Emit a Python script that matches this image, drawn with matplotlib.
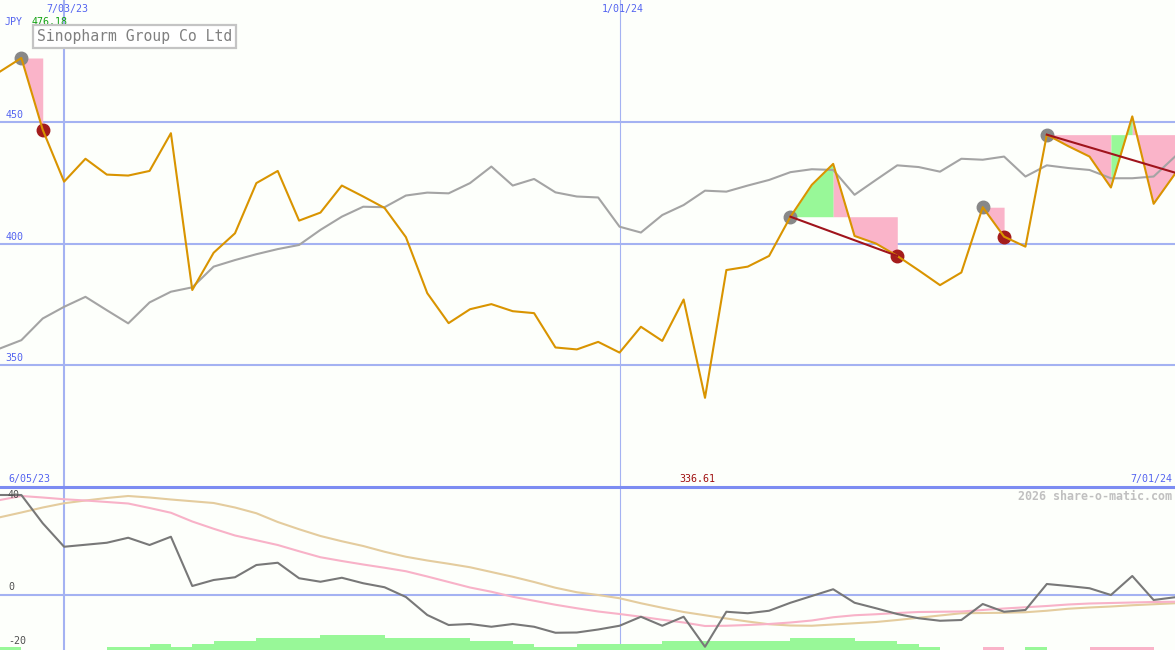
import matplotlib
matplotlib.use("Agg")
import matplotlib.pyplot as plt
import numpy as np

# weekly closes, 12 Jun 2023 .. 1 Jul 2024 (JPY)
price = [470.6, 476.18, 446.7, 425.4, 434.8, 428.3, 427.9, 429.8, 445.3, 380.9,
         396.2, 404.2, 424.8, 429.8, 409.4, 412.7, 423.8, 419.3, 414.6, 402.6,
         379.6, 367.3, 373.0, 375.1, 372.2, 371.4, 357.3, 356.5, 359.6, 355.2,
         365.8, 360.0, 377.0, 336.61, 389.1, 390.5, 394.9, 411.0, 424.1, 432.7,
         403.1, 400.0, 394.9, 389.0, 382.9, 388.1, 414.9, 402.8, 398.7, 444.7,
         440.0, 435.7, 423.0, 452.2, 416.3, 428.6]
moving_avg = [356.9, 360.3, 369.2, 374.0, 378.1, 372.6, 367.2, 375.8, 380.2, 382.0,
              390.5, 393.2, 395.6, 397.7, 399.4, 405.6, 411.0, 415.1, 414.9, 419.7,
              420.9, 420.6, 424.8, 431.6, 423.8, 426.5, 421.0, 419.3, 418.9, 406.9,
              404.5, 411.7, 415.8, 421.7, 421.3, 423.8, 426.1, 429.3, 430.5, 430.2,
              420.0, 426.1, 432.1, 431.4, 429.5, 434.8, 434.4, 435.7, 427.5, 432.1,
              431.0, 430.2, 426.8, 426.8, 427.5, 435.7]

# peaks / troughs and shaded swings
peak_idx = [1, 37, 46, 49]
trough_idx = [2, 42, 47]
fill_start = [1, 37, 39, 46, 49, 52, 53]
fill_end = [2, 39, 42, 47, 52, 53, 55]
fill_level_idx = [1, 37, 37, 46, 49, 49, 49]
fill_up = [False, True, False, False, False, True, False]
trend_start = [37, 49]
trend_end = [42, 55]
trend_end_value = [394.9, 429.1]

# lower panel indicators
osc = [40, 40, 28.7, 19.3, 20.1, 20.9, 22.9, 20.0, 23.3, 3.6,
       6.0, 7.1, 12.0, 12.9, 6.7, 5.3, 6.9, 4.7, 3.1, -0.8,
       -8.0, -12.0, -11.6, -12.7, -11.6, -12.7, -15.1, -15.0, -13.8, -12.3,
       -8.7, -12.3, -8.7, -20.7, -6.7, -7.3, -6.3, -3.1, -0.4, 2.3,
       -3.1, -5.3, -7.6, -9.3, -10.3, -10.0, -3.6, -6.7, -6.0, 4.4,
       3.6, 2.7, 0.0, 7.6, -2.0, -0.9]
osc_fast = [38, 39.6, 39, 38.3, 37.8, 37.2, 36.6, 34.8, 32.9, 29.4,
            26.5, 23.8, 21.9, 20, 17.5, 15.1, 13.6, 12.2, 10.9, 9.5,
            7.4, 5.2, 3, 1.3, -0.7, -2.3, -3.9, -5.3, -6.6, -7.6,
            -8.7, -9.9, -11, -12.4, -12.3, -12, -11.6, -11, -10.2, -8.9,
            -8.1, -7.7, -7.2, -6.8, -6.7, -6.6, -6, -5.4, -4.9, -4.4,
            -3.8, -3.4, -3.2, -3, -2.8, -2.7]
osc_slow = [31.1, 33, 35, 36.7, 37.8, 38.8, 39.6, 39, 38.2, 37.5,
            36.8, 35, 32.7, 29.2, 26.3, 23.6, 21.5, 19.6, 17.3, 15.3,
            13.8, 12.5, 11.1, 9.2, 7.3, 5.2, 2.9, 1.1, 0, -1.3,
            -3.3, -5.1, -6.8, -8.1, -9.4, -10.6, -11.7, -12.2, -12.3, -11.8,
            -11.3, -10.8, -10, -9.1, -8.2, -7.3, -7.2, -7.1, -6.9, -6.3,
            -5.5, -5, -4.6, -4.1, -3.7, -3.3]
hist = [1.2, 0, 0, 0, 0, 1.2, 1.2, 2.4, 1.2, 2.4, 3.6, 3.6, 4.8, 4.8, 4.8,
        6, 6, 6, 4.8, 4.8, 4.8, 4.8, 3.6, 3.6, 2.4, 1.2, 1.2, 2.4, 2.4, 2.4,
        2.4, 3.6, 3.6, 3.6, 3.6, 3.6, 3.6, 4.8, 4.8, 4.8, 3.6, 3.6, 2.4, 1.2,
        0, 0, -1.2, 0, 1.2, 0, 0, -1.2, -1.2, -1.2, 0]

price_grid = [350, 400, 450]
date_grid = [3, 29]
date_grid_labels = ["7/03/23", "1/01/24"]

BG = "#fdfffb"
GRID = "#a4b2f2"
BLUE_TXT = "#5464f0"
MONO = "DejaVu Sans Mono"

W, H = 1175, 650
fig = plt.figure(figsize=(W / 100, H / 100), dpi=100, facecolor=BG)
split = 487
ax = fig.add_axes([0, 1 - split / H, 1, split / H])
ax2 = fig.add_axes([0, 0, 1, 1 - split / H])
for a in (ax, ax2):
    a.set_facecolor(BG)
    a.set_xlim(0, 55)
    a.axis("off")

x = np.arange(len(price))

# ---- top panel ----
ax.set_ylim(300, 500)
for g in price_grid:
    ax.axhline(g, color=GRID, lw=1.5, zorder=1)
    ax.text(0.25, g + 0.8, str(g), color=BLUE_TXT, fontsize=7.2,
            family=MONO, va="bottom", ha="left")
ax.axvline(date_grid[0], color=GRID, lw=1.5, zorder=1)
ax.axvline(date_grid[1], color=GRID, lw=0.8, zorder=1)

p = np.array(price)
for s, e, li, up in zip(fill_start, fill_end, fill_level_idx, fill_up):
    seg = slice(s, e + 1)
    ax.fill_between(x[seg], p[seg], price[li], color="#98f898" if up else "#fab4c9",
                    lw=0, zorder=1.5)

ax.plot(x, moving_avg, color="#a4a4a4", lw=1.5, zorder=2)
ax.plot(x[peak_idx], p[peak_idx], "o", color="#888888", ms=9, zorder=3)
ax.plot(x[trough_idx], p[trough_idx], "o", color="#a41c1c", ms=9, zorder=3)
ax.plot(x, price, color="#d99400", lw=1.5, zorder=4)
for s, e, v in zip(trend_start, trend_end, trend_end_value):
    ax.plot([s, e], [price[s], v], color="#a0141c", lw=1.5, zorder=5)

for gx, lab in zip(date_grid, date_grid_labels):
    ax.text(gx + 0.15, 496.3, lab, color=BLUE_TXT, fontsize=7.2, family=MONO,
            ha="center", va="center")

fig.text(5 / W, 1 - 22 / H, "JPY", color=BLUE_TXT, fontsize=7.2, family=MONO,
         ha="left", va="center")
fig.text(32 / W, 1 - 22 / H, f"{max(price):.2f}", color="#10a010", fontsize=7.2,
         family=MONO, ha="left", va="center")
fig.text(37 / W, 1 - 36.5 / H, "Sinopharm Group Co Ltd", color="#808080",
         fontsize=10.6, family=MONO, ha="left", va="center",
         bbox=dict(boxstyle="square,pad=0.25", fc="white", ec="#c4c4c4", lw=1.6))

# ---- bottom panel ----
ax2.set_ylim(-22, 43.2)
ax2.axhline(43.2, color="#7c8cf2", lw=2.2, zorder=6, clip_on=False)
ax2.axhline(0, color=GRID, lw=1.5, zorder=1)
ax2.axvline(date_grid[0], color=GRID, lw=1.5, zorder=1)
ax2.axvline(date_grid[1], color=GRID, lw=0.8, zorder=1)

hb = np.array(hist)
cols = ["#98f898" if v >= 0 else "#fab4c9" for v in hb]
ax2.bar(np.arange(len(hb)), np.abs(hb), width=1, align="edge", bottom=-22,
        color=cols, lw=0, zorder=1.5)
ax2.plot(x, osc_slow, color="#e4cc9e", lw=1.5, zorder=2)
ax2.plot(x, osc_fast, color="#f8b2c8", lw=1.5, zorder=2)
ax2.plot(x, osc, color="#787878", lw=1.5, zorder=3)

ax2.text(0.37, 40, "40", color="#505050", fontsize=7.2, family=MONO, va="center")
ax2.text(0.37, 1.0, "0", color="#505050", fontsize=7.2, family=MONO, va="bottom")
ax2.text(0.37, -20.2, "-20", color="#505050", fontsize=7.2, family=MONO, va="bottom")

fig.text(8 / W, 1 - 479 / H, "6/05/23", color=BLUE_TXT, fontsize=7.2, family=MONO,
         ha="left", va="center")
fig.text(1172 / W, 1 - 479 / H, "7/01/24", color=BLUE_TXT, fontsize=7.2, family=MONO,
         ha="right", va="center")
fig.text(697 / W, 1 - 479 / H, f"{min(price):.2f}", color="#a01010", fontsize=7.2,
         family=MONO, ha="center", va="center")
fig.text(1172 / W, 1 - 496 / H, "2026 share-o-matic.com", color="#c0c0c0",
         fontsize=8.4, family=MONO, ha="right", va="center", weight="bold")

fig.savefig("out.png", dpi=100, facecolor=BG)
